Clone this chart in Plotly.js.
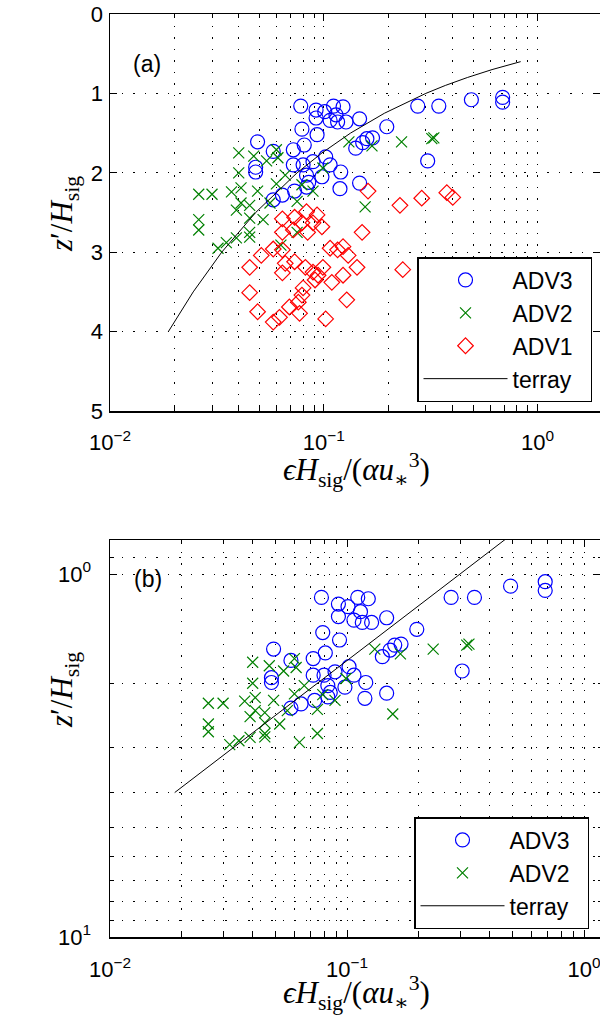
<!DOCTYPE html>
<html><head><meta charset="utf-8">
<script src="https://cdn.plot.ly/plotly-3.0.1.min.js"></script>
<style>html,body{margin:0;padding:0;overflow:hidden;background:#fff;width:600px;height:1019px}</style>
</head><body><div id="chart" style="width:612px;height:1019px"></div>
<script>
// ---- data ----
const adv3X = [0.078,0.092,0.101,0.111,0.123,0.114,0.116,0.127,0.147,0.092,0.107,0.079,0.093,0.081,0.072,0.049,0.058,0.102,0.107,0.089,0.080,0.072,0.048,0.048,0.120,0.098,0.083,0.085,0.083,0.073,0.064,0.058,0.119,0.147,0.141,0.152,0.169,0.197,0.275,0.345,0.49,0.686,0.686,0.306,0.159];
const adv3Y = [1.16,1.21,1.23,1.16,1.17,1.27,1.36,1.36,1.32,1.31,1.34,1.45,1.52,1.65,1.71,1.61,1.73,1.80,1.90,1.86,1.90,1.90,1.93,1.99,1.99,2.05,2.03,2.12,2.18,2.23,2.28,2.34,2.20,2.13,1.69,1.62,1.56,1.42,1.16,1.16,1.08,1.05,1.11,1.85,1.57];

const adv2X = [0.040,0.047,0.054,0.060,0.061,0.040,0.026,0.030,0.037,0.041,0.049,0.039,0.041,0.045,0.026,0.026,0.045,0.045,0.045,0.039,0.035,0.032,0.052,0.056,0.060,0.066,0.079,0.089,0.075,0.099,0.075,0.063,0.131,0.168,0.231,0.320,0.327,0.156];
const adv2Y = [1.75,1.79,1.85,1.71,1.81,2.00,2.27,2.27,2.24,2.19,2.23,2.47,2.38,2.41,2.59,2.72,2.57,2.75,2.81,2.82,2.88,2.95,2.59,2.38,2.14,2.03,2.15,2.23,2.36,1.94,2.75,2.91,1.61,1.66,1.61,1.57,1.56,2.43];

const adv1X = [0.064,0.073,0.083,0.093,0.079,0.089,0.098,0.064,0.072,0.084,0.151,0.051,0.058,0.064,0.045,0.066,0.073,0.064,0.082,0.089,0.099,0.107,0.116,0.123,0.130,0.143,0.123,0.109,0.094,0.091,0.080,0.079,0.076,0.069,0.077,0.062,0.058,0.049,0.045,0.102,0.128,0.161,0.227,0.287,0.376,0.401,0.234];
const adv1Y = [2.58,2.56,2.49,2.53,2.63,2.63,2.68,2.75,2.72,2.75,2.75,3.04,2.96,2.97,3.19,3.14,3.12,3.26,3.19,3.25,3.19,2.95,2.97,2.93,3.04,3.19,3.29,3.38,3.29,3.35,3.45,3.54,3.63,3.69,3.77,3.82,3.88,3.75,3.51,3.84,3.60,2.23,2.41,2.32,2.25,2.31,3.22];

const terrayX = [0.01875,0.0245,0.0333,0.048,0.075,0.098,0.1333,0.192,0.3,0.370,0.469,0.612,0.833];
const terrayY = [4,3.5,3,2.5,2,1.75,1.5,1.25,1,0.9,0.8,0.7,0.6];

const seriesNames = ['ADV3','ADV2','ADV1','terray'];

// ---- tick labels ----
const xTickVals = [0.01,0.1,1];
const xTickText = ['10<sup>−2</sup>','10<sup>−1</sup>','10<sup>0</sup>'];
const xMinorVals = [0.02,0.03,0.04,0.05,0.06,0.07,0.08,0.09,0.2,0.3,0.4,0.5,0.6,0.7,0.8,0.9,2,3,4,5,6,7,8,9];
const yTickValsA = [0,1,2,3,4,5];
const yTickTextA = ['0','1','2','3','4','5'];
const yTickValsB = [1,10];
const yTickTextB = ['10<sup>0</sup>','10<sup>1</sup>'];
const yMinorValsB = [0.9,2,3,4,5,6,7,8,9];

// ---- layout helpers ----
const W = 612, H = 1019;
const px = v => v / W, py = v => 1 - v / H;
const FONT = '"Liberation Sans", Arial, Helvetica, sans-serif';
const SERIF = '"Liberation Serif", "DejaVu Serif", "Times New Roman", serif';
const GD = '1.5px,10px';
const PAD = '\u00a0\u00a0';  // right padding inside legend box

const minorBase = {ticks:'inside', ticklen:4, tickcolor:'#000', tickwidth:1, showgrid:true, gridcolor:'#000', gridwidth:1, griddash:GD};
const axBase = {showline:true, linecolor:'#000', linewidth:1.5, mirror:'ticks', ticks:'inside', ticklen:7, tickwidth:1, tickcolor:'#000',
  showgrid:true, gridcolor:'#000', gridwidth:1, griddash:GD, zeroline:false, fixedrange:true,
  tickfont:{family:FONT, size:22, color:'#000'}};

const mk3 = {symbol:'circle-open', size:14, color:'#0000ff', line:{width:1.2}};
const mk2 = {symbol:'x-thin-open', size:11, color:'#008000', line:{width:1.2}};
const mk1 = {symbol:'diamond-open', size:12, color:'#ff0000', line:{width:1.2}};
const ln = {color:'#000', width:1};

const data = [
  {x:adv3X, y:adv3Y, mode:'markers', name:seriesNames[0]+PAD, marker:mk3, xaxis:'x', yaxis:'y', legend:'legend'},
  {x:adv2X, y:adv2Y, mode:'markers', name:seriesNames[1]+PAD, marker:mk2, xaxis:'x', yaxis:'y', legend:'legend'},
  {x:adv1X, y:adv1Y, mode:'markers', name:seriesNames[2]+PAD, marker:mk1, xaxis:'x', yaxis:'y', legend:'legend'},
  {x:terrayX, y:terrayY, mode:'lines', name:seriesNames[3]+PAD, line:ln, xaxis:'x', yaxis:'y', legend:'legend'},
  {x:adv3X, y:adv3Y, mode:'markers', name:seriesNames[0]+PAD, marker:mk3, xaxis:'x2', yaxis:'y2', legend:'legend2'},
  {x:adv2X, y:adv2Y, mode:'markers', name:seriesNames[1]+PAD, marker:mk2, xaxis:'x2', yaxis:'y2', legend:'legend2'},
  {x:terrayX, y:terrayY, mode:'lines', name:seriesNames[3]+PAD, line:ln, xaxis:'x2', yaxis:'y2', legend:'legend2'}
];

const legBase = {bgcolor:'#fff', bordercolor:'#000', borderwidth:1.5, font:{family:FONT, size:23, color:'#000'},
  itemwidth:84, tracegroupgap:0, xanchor:'right', yanchor:'bottom'};

const ttlFont = {family:SERIF, size:31, color:'#000'};
const xTitle = '<i>ϵH</i><sub>sig</sub>/(<i>αu</i><sub>∗</sub><sup>3</sup>)';
const yTitle = '<i>z</i>′/<i>H</i><sub>sig</sub>';
const ann = (text, x, y, font, extra) => Object.assign({text:text, x:px(x), y:py(y), xref:'paper', yref:'paper', showarrow:false, xanchor:'center', yanchor:'middle', font:font}, extra || {});

const layout = {
  width:W, height:H, margin:{l:0,r:0,t:0,b:0}, paper_bgcolor:'#fff', plot_bgcolor:'#fff', showlegend:true,
  xaxis:Object.assign({}, axBase, {type:'log', domain:[px(110),px(602)], range:[-2,Math.log10(2)], anchor:'y',
    tickmode:'array', tickvals:xTickVals, ticktext:xTickText, ticklabelstandoff:11,
    minor:Object.assign({tickmode:'array', tickvals:xMinorVals}, minorBase)}),
  yaxis:Object.assign({}, axBase, {domain:[py(411),py(14)], range:[5,0], anchor:'x',
    tickmode:'array', tickvals:yTickValsA, ticktext:yTickTextA, ticklabelstandoff:1}),
  xaxis2:Object.assign({}, axBase, {type:'log', domain:[px(110),px(602)], range:[-2,-2+492/237], anchor:'y2',
    tickmode:'array', tickvals:xTickVals, ticktext:xTickText, ticklabelstandoff:12,
    minor:Object.assign({tickmode:'array', tickvals:xMinorVals}, minorBase)}),
  yaxis2:Object.assign({}, axBase, {type:'log', domain:[py(937),py(540)], range:[1,Math.log10(0.806)], anchor:'x2',
    tickmode:'array', tickvals:yTickValsB, ticktext:yTickTextB, ticklabelstandoff:13,
    minor:Object.assign({tickmode:'array', tickvals:yMinorValsB}, minorBase)}),
  legend:Object.assign({}, legBase, {x:px(592), y:py(402)}),
  legend2:Object.assign({}, legBase, {x:px(589), y:py(929)}),
  annotations:[
    ann('(a)', 147, 64, {family:FONT,size:23,color:'#000'}),
    ann('(b)', 148, 579, {family:FONT,size:23,color:'#000'}),
    ann(xTitle, 356, 470, ttlFont),
    ann(xTitle, 356, 993, ttlFont),
    ann(yTitle, 64, 214, ttlFont, {textangle:-90}),
    ann(yTitle, 64, 690, ttlFont, {textangle:-90})
  ]
};

Plotly.newPlot('chart', data, layout, {displayModeBar:false, staticPlot:true});
</script>
</body></html>
